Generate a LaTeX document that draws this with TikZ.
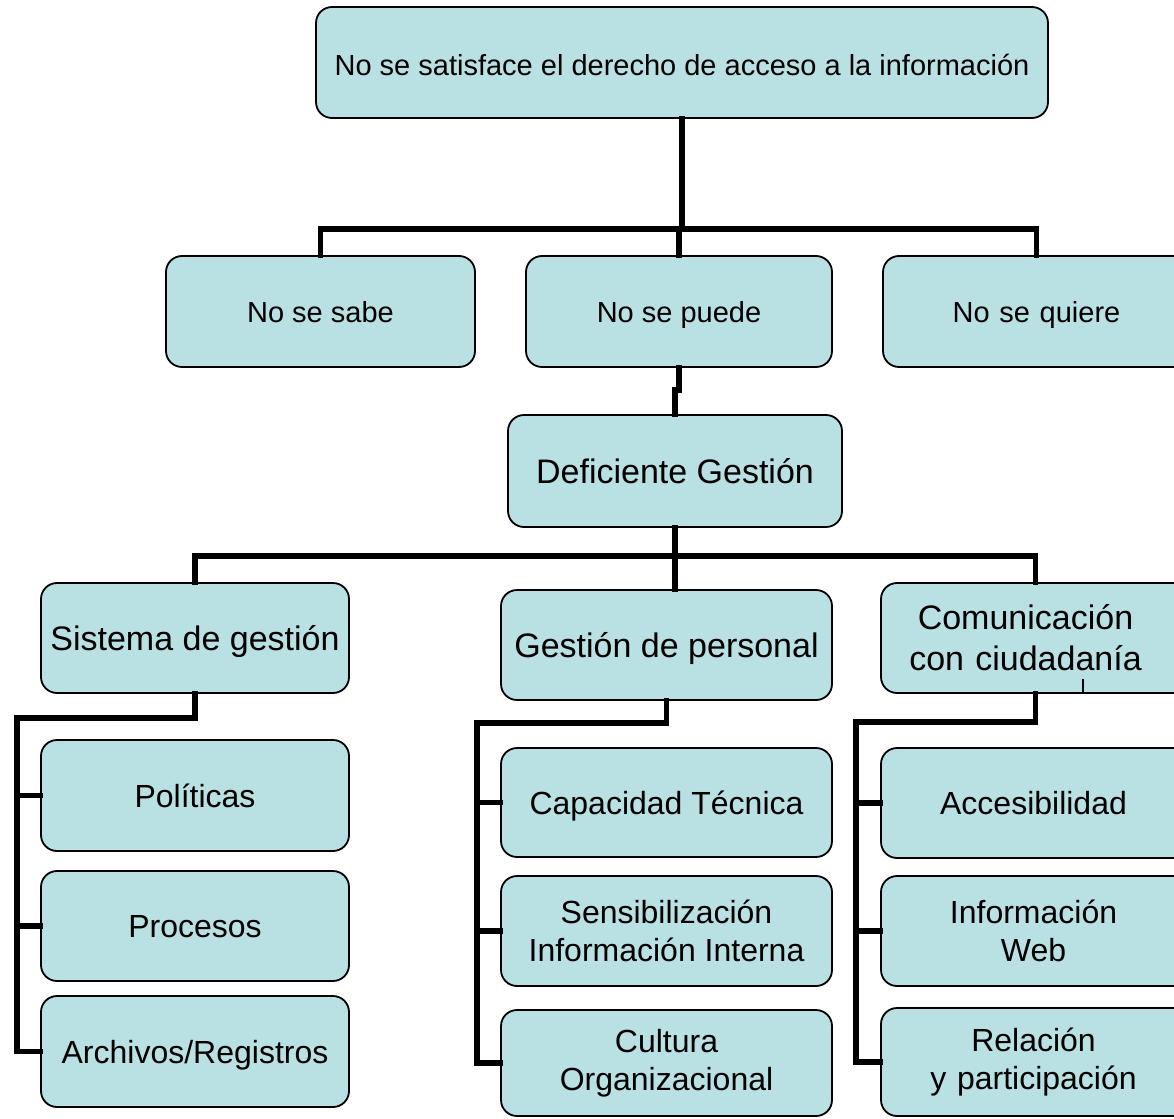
\documentclass[tikz,border=0pt]{standalone}
\usepackage{fontspec}
\setmainfont{Liberation Sans}
\definecolor{boxfill}{RGB}{185,224,227}
\begin{document}
\begin{tikzpicture}[x=1pt,y=-1pt,
  box/.style={draw=black, line width=1.8pt, fill=boxfill, rounded corners=16pt,
    align=center, inner sep=0pt, text=black},
  oneline/.style={text depth=0pt},
  lvA/.style={box, font=\fontsize{29}{35}\selectfont},
  lvB/.style={box, font=\fontsize{34}{41}\selectfont},
  leaf/.style={box, font=\fontsize{32}{38.5}\selectfont},
  conn/.style={draw=black, line width=5.5pt, line cap=rect, line join=miter}]
\useasboundingbox (0,0) rectangle (1174,1118);
\fill[white] (0,0) rectangle (1174,1118);
\clip (0,0) rectangle (1174,1118);

% nodes
\node[lvA, text height=27pt, text depth=0pt, minimum width=732pt, minimum height=111pt] (top) at (682,62.5) {No se satisface el derecho de acceso a la información};
\node[lvA, oneline, minimum width=309pt, minimum height=111pt] (sabe) at (320.5,311.5) {No se sabe};
\node[lvA, oneline, minimum width=306pt, minimum height=111pt] (puede) at (679,311.5) {No se puede};
\node[lvA, oneline, minimum width=307pt, minimum height=111pt, text width=291pt] (quiere) at (1036.5,311.5) {No se quiere};
\node[lvB, oneline, minimum width=334pt, minimum height=112pt] (def) at (675,471) {Deficiente Gestión};
\node[lvB, oneline, minimum width=308pt, minimum height=110pt] (sis) at (195,638) {Sistema de gestión};
\node[lvB, oneline, minimum width=331pt, minimum height=110pt] (gp) at (666.5,645) {Gestión de personal};
\node[lvB, minimum width=309pt, minimum height=110pt, text width=309pt] (com) at (1035.5,638) {\hspace*{-20pt}Comunicación\\\hspace*{-20pt}con ciudadanía};

\node[leaf, oneline, minimum width=308pt, minimum height=111pt] (pol) at (195,795.5) {Políticas};
\node[leaf, oneline, minimum width=308pt, minimum height=110pt] (pro) at (195,926) {Procesos};
\node[leaf, oneline, minimum width=308pt, minimum height=111pt] (arc) at (195,1051.5) {Archivos/Registros};

\node[leaf, oneline, minimum width=331pt, minimum height=109pt] (cap) at (666.5,802.5) {Capacidad Técnica};
\node[leaf, minimum width=331pt, minimum height=110pt] (sen) at (666.5,931) {Sensibilización\\Información Interna};
\node[leaf, minimum width=331pt, minimum height=106pt] (cul) at (666.5,1063) {Cultura\\Organizacional};

\node[leaf, oneline, minimum width=309pt, minimum height=110pt, text width=309pt] (acc) at (1035.5,803) {\hspace*{-4pt}Accesibilidad};
\node[leaf, minimum width=309pt, minimum height=110pt, text width=309pt] (inf) at (1035.5,931) {\hspace*{-4pt}Información\\\hspace*{-4pt}Web};
\node[leaf, minimum width=309pt, minimum height=108pt, text width=309pt] (rel) at (1035.5,1062) {\hspace*{-4pt}Relación\\\hspace*{-4pt}y participación};

% bus coordinates
\coordinate (b1) at (0,229);
\coordinate (j1) at (0,390);
\coordinate (b2) at (0,556);
\coordinate (s1) at (17,718);
\coordinate (g1) at (477,723);
\coordinate (c1) at (856,722);

% connectors
\draw[conn] (top.south) -- (top.south |- b1);
\draw[conn] (sabe.north) |- (quiere.north |- b1) -- (quiere.north);
\draw[conn] (puede.north) -- (puede.north |- b1);
\draw[conn] (puede.south) -- (puede.south |- j1) -| (def.north);
\draw[conn] (def.south) -- (def.south |- gp.north);
\draw[conn] (sis.north) |- (com.north |- b2) -- (com.north);

\draw[conn] (sis.south) |- (s1) -- (s1 |- arc.west) -- (arc.west);
\draw[conn] (s1 |- pol.west) -- (pol.west);
\draw[conn] (s1 |- pro.west) -- (pro.west);

\draw[conn] (gp.south) |- (g1) -- (g1 |- cul.west) -- (cul.west);
\draw[conn] (g1 |- cap.west) -- (cap.west);
\draw[conn] (g1 |- sen.west) -- (sen.west);

\draw[conn] (com.south) |- (c1) -- (c1 |- rel.west) -- (rel.west);
\draw[conn] (c1 |- acc.west) -- (acc.west);
\draw[conn] (c1 |- inf.west) -- (inf.west);

% small tick inside Comunicación box
\draw[line width=1.8pt] ([xshift=47.5pt]com.south) -- ++(0,-15);
\end{tikzpicture}
\end{document}
